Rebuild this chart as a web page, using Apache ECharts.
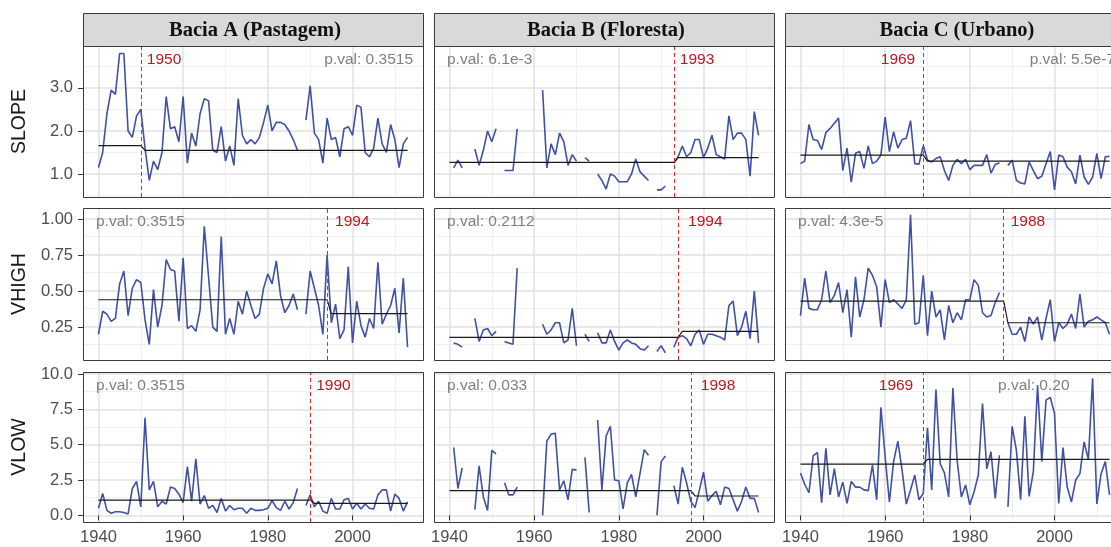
<!DOCTYPE html>
<html><head><meta charset="utf-8">
<script src="https://cdn.jsdelivr.net/npm/echarts@6/dist/echarts.min.js"></script>
<style>html,body{margin:0;padding:0;background:#fff;}#c{width:1111px;height:547px;}</style>
</head><body><div id="c"></div>
<script>
// ---------------- DATA ----------------
const years = [1940,1941,1942,1943,1944,1945,1946,1947,1948,1949,
  1950,1951,1952,1953,1954,1955,1956,1957,1958,1959,
  1960,1961,1962,1963,1964,1965,1966,1967,1968,1969,
  1970,1971,1972,1973,1974,1975,1976,1977,1978,1979,
  1980,1981,1982,1983,1984,1985,1986,1987,1988,1989,
  1990,1991,1992,1993,1994,1995,1996,1997,1998,1999,
  2000,2001,2002,2003,2004,2005,2006,2007,2008,2009,
  2010,2011,2012,2013];
const basins = ['Bacia A (Pastagem)', 'Bacia B (Floresta)', 'Bacia C (Urbano)'];
const variables = ['SLOPE', 'VHIGH', 'VLOW'];

const slopeA = [1.15,1.5,2.4,2.95,2.85,3.8,3.8,2.0,1.85,2.35,
  2.5,1.6,0.85,1.3,1.1,1.5,2.8,2.05,2.1,1.75,
  2.8,1.25,1.95,1.65,2.4,2.75,2.7,1.55,1.5,2.1,
  1.3,1.65,1.2,2.75,1.9,1.7,1.8,1.7,1.85,2.2,
  2.6,2.0,2.2,2.2,2.15,2.0,1.8,1.55,null,2.25,
  3.05,1.95,1.8,1.25,2.3,1.8,1.85,1.4,2.05,2.1,
  1.9,2.6,2.55,1.5,1.4,1.6,2.3,1.7,1.5,2.15,
  1.8,1.15,1.7,1.85];
const slopeB = [null,1.14,1.32,1.14,null,null,1.58,1.2,1.55,2.0,
  1.75,2.05,null,1.08,1.08,1.08,2.05,null,null,null,
  null,null,2.95,1.14,1.7,1.45,1.95,1.75,1.2,1.45,
  1.3,null,1.38,1.3,null,1.0,0.85,0.65,1.0,0.95,
  0.82,0.82,0.82,1.0,1.35,1.05,0.95,0.85,null,0.63,
  0.63,0.72,null,1.25,1.4,1.65,1.4,1.5,1.8,1.8,
  1.38,1.6,1.9,1.45,1.4,1.35,2.35,1.8,1.95,1.95,
  1.8,0.95,2.45,1.9];
const slopeC = [1.24,1.3,2.15,1.8,1.78,1.57,1.96,2.06,2.18,2.3,
  1.08,1.6,0.81,1.48,1.52,1.13,1.65,1.24,1.3,1.44,
  2.32,1.52,1.98,1.6,1.8,1.83,2.24,1.24,1.23,1.66,
  1.32,1.28,1.36,1.4,1.08,0.85,1.2,1.34,1.24,1.34,
  1.1,1.2,1.2,1.2,1.45,1.02,1.22,1.26,null,1.2,
  1.32,0.85,0.79,0.77,1.28,1.08,0.89,0.95,1.24,1.52,
  0.63,1.44,1.4,1.16,1.05,0.77,1.44,0.93,0.76,0.93,
  1.48,0.89,1.4,1.41];

const vhighA = [0.20,0.36,0.34,0.29,0.31,0.55,0.64,0.33,0.52,0.58,
  0.56,0.30,0.13,0.51,0.25,0.40,0.72,0.65,0.64,0.29,
  0.73,0.24,0.26,0.22,0.37,0.95,0.60,0.25,0.22,0.88,
  0.20,0.31,0.20,0.43,0.34,0.50,0.40,0.31,0.34,0.52,
  0.62,0.55,0.71,0.47,0.35,0.40,0.48,0.37,null,0.34,
  0.64,0.52,0.40,0.20,0.75,0.28,0.41,0.17,0.23,0.67,
  0.14,0.43,0.26,0.18,0.31,0.24,0.70,0.27,0.34,0.40,
  0.52,0.21,0.59,0.11];
const vhighB = [null,0.14,0.13,0.11,null,null,0.31,0.15,0.23,0.24,
  0.19,0.22,null,0.15,0.14,0.13,0.66,null,null,null,
  null,null,0.27,0.20,0.23,0.28,0.28,0.14,0.16,0.38,
  0.12,null,0.20,0.15,null,0.21,0.14,0.14,0.23,0.15,
  0.09,0.14,0.16,0.14,0.13,0.10,0.09,0.12,null,0.08,
  0.12,0.07,null,0.11,0.18,0.19,0.17,0.12,0.20,0.23,
  0.13,0.20,0.20,0.19,0.18,0.16,0.40,0.43,0.19,0.25,
  0.36,0.17,0.50,0.14];
const vhighC = [0.33,0.59,0.38,0.37,0.37,0.44,0.64,0.42,0.47,0.56,
  0.35,0.51,0.18,0.60,0.32,0.44,0.66,0.61,0.53,0.25,
  0.58,0.42,0.44,0.41,0.38,0.44,1.03,0.27,0.28,0.61,
  0.19,0.50,0.32,0.37,0.16,0.40,0.28,0.35,0.30,0.44,
  0.44,0.58,0.54,0.35,0.32,0.33,0.42,0.49,null,0.28,
  0.20,0.20,0.25,0.15,0.32,0.27,0.32,0.16,0.31,0.44,
  0.15,0.28,0.24,0.27,0.34,0.24,0.48,0.25,0.29,0.30,
  0.32,0.30,0.28,0.20];

const vlowA = [0.5,1.55,0.35,0.15,0.25,0.25,0.2,0.1,1.9,2.4,
  0.6,6.9,1.8,2.4,0.6,1.0,0.8,2.0,1.9,1.5,
  0.9,3.45,1.0,4.0,0.8,1.4,0.5,0.7,0.2,1.2,
  0.3,0.7,0.4,0.5,0.5,0.15,0.5,0.35,0.35,0.4,
  0.5,1.05,0.55,0.35,1.0,0.45,0.9,1.9,null,0.7,
  1.45,0.6,1.0,0.3,0.15,1.2,0.45,0.45,1.1,1.2,
  0.45,0.85,0.45,0.8,0.5,0.45,1.45,1.8,1.8,0.3,
  1.5,1.2,0.3,0.95];
const vlowB = [null,4.8,1.9,3.35,null,null,0.4,3.5,1.3,0.35,
  4.6,4.35,null,2.3,1.45,1.45,2.0,null,null,null,
  null,null,0.0,5.25,5.75,5.8,1.8,2.45,1.1,3.25,
  3.2,null,4.1,0.2,null,6.75,1.8,5.6,6.3,2.5,
  2.45,0.45,2.3,2.9,1.3,2.95,4.65,4.25,null,0.0,
  3.8,4.2,null,2.1,0.8,3.4,2.3,1.0,0.55,1.75,
  3.05,1.0,1.4,1.7,0.75,2.0,1.9,1.1,0.3,1.0,
  2.0,1.2,1.2,0.2];
const vlowC = [3.0,2.2,1.6,4.2,4.45,0.9,4.75,1.45,3.3,1.3,
  2.35,0.85,2.4,2.0,2.0,1.8,1.75,3.55,1.1,7.65,
  4.15,0.95,3.8,5.25,3.2,0.8,1.8,2.85,1.1,1.55,
  6.2,1.8,8.9,3.65,3.0,1.3,9.0,3.9,1.3,2.15,
  0.75,1.65,2.85,7.9,3.3,4.5,1.2,4.25,null,0.6,
  6.3,4.6,1.1,7.0,1.35,3.1,9.2,3.8,8.15,8.35,
  7.2,0.85,4.8,2.0,0.95,2.5,2.95,5.2,3.95,9.7,
  0.8,2.95,3.8,1.45];

// change points (year of the dashed line), label text, segment means
const cpYearSLOPE = [1950, 1993, 1969];
const cpYearVHIGH = [1994, 1994, 1988];
const cpYearVLOW  = [1990, 1997, 1969];
const cpTextSLOPE = ['1950', '1993', '1969'];
const cpTextVHIGH = ['1994', '1994', '1988'];
const cpTextVLOW  = ['1990', '1998', '1969'];
const meanBeforeSLOPE = [1.66, 1.27, 1.44];
const meanAfterSLOPE  = [1.55, 1.38, 1.30];
const meanBeforeVHIGH = [0.44, 0.178, 0.43];
const meanAfterVHIGH  = [0.343, 0.22, 0.28];
const meanBeforeVLOW  = [1.08, 1.75, 3.63];
const meanAfterVLOW   = [0.85, 1.37, 3.96];
const pvalSLOPE = ['p.val: 0.3515', 'p.val: 6.1e-3', 'p.val: 5.5e-7'];
const pvalVHIGH = ['p.val: 0.3515', 'p.val: 0.2112', 'p.val: 4.3e-5'];
const pvalVLOW  = ['p.val: 0.3515', 'p.val: 0.033', 'p.val: 0.20'];

// axis ticks
const xTicks = [1940, 1960, 1980, 2000];
const xMinor = [1950, 1970, 1990, 2010];
const yTicksSLOPE = [1, 2, 3];        const yLabelsSLOPE = ['1.0', '2.0', '3.0'];
const yTicksVHIGH = [0.25, 0.5, 0.75, 1.0]; const yLabelsVHIGH = ['0.25', '0.50', '0.75', '1.00'];
const yTicksVLOW  = [0, 2.5, 5, 7.5, 10];   const yLabelsVLOW  = ['0.0', '2.5', '5.0', '7.5', '10.0'];
const yMinorSLOPE = [0.5, 1.5, 2.5, 3.5];
const yMinorVHIGH = [0.125, 0.375, 0.625, 0.875];
const yMinorVLOW  = [1.25, 3.75, 6.25, 8.75];
const xLimits = [1936.35, 2016.65];
const yLimitsSLOPE = [0.465, 3.975];
const yLimitsVHIGH = [0.021, 1.078];
const yLimitsVLOW  = [-0.47, 10.14];

// ---------------- ASSEMBLY ----------------
const series3 = [[slopeA, slopeB, slopeC], [vhighA, vhighB, vhighC], [vlowA, vlowB, vlowC]];
const cpYears = [cpYearSLOPE, cpYearVHIGH, cpYearVLOW];
const cpTexts = [cpTextSLOPE, cpTextVHIGH, cpTextVLOW];
const mBefore = [meanBeforeSLOPE, meanBeforeVHIGH, meanBeforeVLOW];
const mAfter = [meanAfterSLOPE, meanAfterVHIGH, meanAfterVLOW];
const pvals = [pvalSLOPE, pvalVHIGH, pvalVLOW];
const yTicks = [yTicksSLOPE, yTicksVHIGH, yTicksVLOW];
const yLabels = [yLabelsSLOPE, yLabelsVHIGH, yLabelsVLOW];
const yMinor = [yMinorSLOPE, yMinorVHIGH, yMinorVLOW];
const yLimits = [yLimitsSLOPE, yLimitsVHIGH, yLimitsVLOW];

// layout (pixels)
const colLeft = [83, 434, 785], panelW = 340;
const rowTop = [46, 208, 372], rowH = [151, 152, 150];
const stripTop = 13, stripH = 33;
const SANS = "'Liberation Sans', Arial, Helvetica, sans-serif";
const SERIF = "'Liberation Serif', 'Times New Roman', serif";
// p.val placement: 'l' left, 'r' right, number = offset from panel left
const pvalPos = [['r', 'l', 'r'], ['l', 'l', 'l'], ['l', 'l', 213]];
// change-point label side: 1 right of line, -1 left of line
const cpSide = [[1, 1, -1], [1, 1, 1], [1, 1, -1]];
const cpGap = [[6, 6, 8], [8, 10, 7], [6, 10, 10]];

const BLUE = '#4051A3', RED = '#E8262A', REDTXT = '#C0141E';
const grids = [], xAxes = [], yAxes = [], series = [];

for (let r = 0; r < 3; r++) {
  for (let c = 0; c < 3; c++) {
    const i = r * 3 + c;
    grids.push({ left: colLeft[c], top: rowTop[r], width: panelW, height: rowH[r], show: false, containLabel: false, outerBoundsMode: 'none' });
    xAxes.push({
      type: 'value', gridIndex: i, min: xLimits[0], max: xLimits[1],
      axisLine: { show: false }, splitLine: { show: false },
      axisTick: { show: r === 2, customValues: xTicks, length: 5, lineStyle: { color: '#333', width: 1 } },
      axisLabel: { show: r === 2, customValues: xTicks, margin: 7, color: '#4D4D4D', fontSize: 16.5, fontFamily: SANS, formatter: v => String(v) }
    });
    const yt = yTicks[r], yl = yLabels[r];
    yAxes.push({
      type: 'value', gridIndex: i, min: yLimits[r][0], max: yLimits[r][1],
      axisLine: { show: false }, splitLine: { show: false },
      axisTick: { show: c === 0, customValues: yt, length: 5, lineStyle: { color: '#333', width: 1 } },
      axisLabel: { show: c === 0, customValues: yt, margin: 10, color: '#4D4D4D', fontSize: 16.5, fontFamily: SANS,
        formatter: v => { const k = yt.findIndex(t => Math.abs(t - v) < 1e-9); return k >= 0 ? yl[k] : ''; } }
    });
    const gridLines = [];
    xMinor.forEach(v => gridLines.push({ xAxis: v, lineStyle: { color: '#EEEEEE', width: 0.9, type: 'solid' } }));
    yMinor[r].forEach(v => gridLines.push({ yAxis: v, lineStyle: { color: '#EEEEEE', width: 0.9, type: 'solid' } }));
    xTicks.forEach(v => gridLines.push({ xAxis: v, lineStyle: { color: '#E1E1E1', width: 1.5, type: 'solid' } }));
    yTicks[r].forEach(v => gridLines.push({ yAxis: v, lineStyle: { color: '#E1E1E1', width: 1.5, type: 'solid' } }));

    const vals = series3[r][c];
    const cp = cpYears[r][c];
    const first = years[0], last = years[years.length - 1];
    const meanData = [[first, mBefore[r][c]], [cp, mBefore[r][c]], [cp + 1, mAfter[r][c]], [last, mAfter[r][c]]];

    // helper series carrying grid lines (drawn below everything)
    series.push({
      type: 'line', xAxisIndex: i, yAxisIndex: i, data: meanData, silent: true, z: 0,
      lineStyle: { opacity: 0 }, showSymbol: false, symbol: 'none',
      markLine: { silent: true, symbol: 'none', z: 0, animation: false, label: { show: false }, emphasis: { disabled: true }, data: gridLines }
    });
    // data line
    series.push({
      type: 'line', xAxisIndex: i, yAxisIndex: i, z: 3,
      data: years.map((y, k) => [y, vals[k]]),
      showSymbol: false, symbol: 'none', connectNulls: false,
      lineStyle: { color: BLUE, width: 1.6 }, itemStyle: { color: BLUE },
      markLine: { silent: true, symbol: 'none', z: 6, animation: false, label: { show: false }, emphasis: { disabled: true },
        data: [{ xAxis: cp, lineStyle: { color: RED, width: 1, type: [4, 3] } }] }
    });
    // mean line
    series.push({
      type: 'line', xAxisIndex: i, yAxisIndex: i, z: 4, data: meanData,
      showSymbol: false, symbol: 'none', lineStyle: { color: '#1A1A1A', width: 1.2 }, itemStyle: { color: '#1A1A1A' }
    });
  }
}

const chart = echarts.init(document.getElementById('c'), null, { renderer: 'canvas', width: 1111, height: 547 });
chart.setOption({ animation: false, backgroundColor: '#fff', grid: grids, xAxis: xAxes, yAxis: yAxes, series: series });

// graphic overlays: strips, panel frames, titles and texts
const graphic = [];
for (let c = 0; c < 3; c++) {
  graphic.push({ type: 'rect', z: 50, shape: { x: colLeft[c] + 0.5, y: stripTop + 0.5, width: panelW, height: stripH },
    style: { fill: '#D9D9D9', stroke: '#3A3A3A', lineWidth: 1 } });
  graphic.push({ type: 'text', z: 51, x: colLeft[c] + panelW / 2 + 2, y: stripTop + stripH / 2 + 1,
    style: { text: basins[c], fill: '#111', fontSize: 20.5, fontWeight: 'bold', fontFamily: SERIF, align: 'center', verticalAlign: 'middle' } });
}
for (let r = 0; r < 3; r++) {
  graphic.push({ type: 'text', z: 51, x: 20, y: rowTop[r] + rowH[r] / 2, rotation: Math.PI / 2,
    style: { text: variables[r], fill: '#1A1A1A', fontSize: 19.5, fontFamily: SANS, align: 'center', verticalAlign: 'middle' } });
  for (let c = 0; c < 3; c++) {
    const i = r * 3 + c;
    graphic.push({ type: 'rect', z: 50, shape: { x: colLeft[c] + 0.5, y: rowTop[r] + 0.5, width: panelW, height: rowH[r] },
      style: { fill: 'none', stroke: '#3A3A3A', lineWidth: 1 } });
    const ty = rowTop[r] + 13.5;
    const pp = pvalPos[r][c];
    let px, pal;
    if (pp === 'l') { px = colLeft[c] + 13; pal = 'left'; }
    else if (pp === 'r') { px = colLeft[c] + panelW - 10; pal = 'right'; }
    else { px = colLeft[c] + pp; pal = 'left'; }
    graphic.push({ type: 'text', z: 52, x: px, y: ty,
      style: { text: pvals[r][c], fill: '#7F7F7F', fontSize: 15.5, fontFamily: SANS, align: pal, verticalAlign: 'middle' } });
    const lx = chart.convertToPixel({ xAxisIndex: i }, cpYears[r][c]);
    const side = cpSide[r][c];
    graphic.push({ type: 'text', z: 52, x: lx + side * cpGap[r][c], y: ty,
      style: { text: cpTexts[r][c], fill: REDTXT, fontSize: 15.5, fontFamily: SANS, align: side > 0 ? 'left' : 'right', verticalAlign: 'middle' } });
  }
}
chart.setOption({ graphic: graphic });
</script></body></html>
